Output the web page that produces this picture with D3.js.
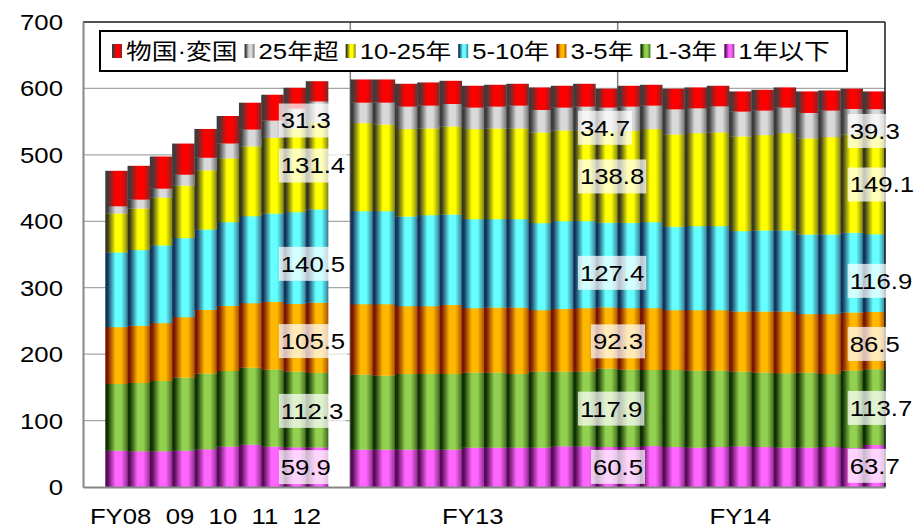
<!DOCTYPE html>
<html>
<head>
<meta charset="utf-8">
<script src="https://cdn.jsdelivr.net/npm/d3@7"></script>
<style>
  html, body { margin: 0; padding: 0; background: #fff; }
  svg { display: block; }
  text { font-family: "Liberation Sans", "Noto Sans CJK JP", Arial, sans-serif; fill: #000; }
</style>
</head>
<body>
<svg id="chart" width="918" height="528"></svg>
<script>
// ---- categories: FY08-FY12 half-year ends, FY13-FY14 month ends (two blank slots pad the first block)
const periods = [
  "pad-a",
  "2008/09", "2009/03", "2009/09", "2010/03", "2010/09",
  "2011/03", "2011/09", "2012/03", "2012/09", "2013/03",
  "pad-b",
  "2013/04", "2013/05", "2013/06", "2013/07", "2013/08", "2013/09",
  "2013/10", "2013/11", "2013/12", "2014/01", "2014/02", "2014/03",
  "2014/04", "2014/05", "2014/06", "2014/07", "2014/08", "2014/09",
  "2014/10", "2014/11", "2014/12", "2015/01", "2015/02", "2015/03"
];

// ---- axis tick labels
const tickPeriods = ["2010/09", "2013/09", "2014/09"];
const tickTexts   = ["FY08  09  10  11  12", "FY13", "FY14"];
const yTicks      = [0, 100, 200, 300, 400, 500, 600, 700];

// ---- series (bottom to top), values in trillion yen
const seriesNames = ["1年以下", "1-3年", "3-5年", "5-10年", "10-25年", "25年超", "物国·変国"];

const upTo1y = [null,
  55, 54, 54, 55, 57, 61, 64, 61, 60, 59.9, null,
  56.5, 56.5, 56.5, 56.5, 56.5, 59.5, 59.5, 59.5, 59.5, 61.5, 61.5, 60.5,
  60.5, 62, 60.5, 59.5, 60.5, 61.5, 60.5, 59.5, 59.5, 60.5, 59, 63.7];
const y1to3 = [null,
  100.5, 103, 106, 110, 114, 114, 116, 116, 114, 112.3, null,
  113, 111.5, 114, 114, 114, 113, 113, 111, 114.5, 112.5, 112.5, 117.9,
  116.5, 114.5, 116, 116, 115, 112.5, 112, 112, 113, 110, 116.5, 113.7];
const y3to5 = [null,
  85.5, 86, 87, 91, 96, 98, 97, 102, 102, 105.5, null,
  106, 107.5, 102, 102, 104, 97, 98, 100, 92.5, 94.5, 95.5, 92.3,
  92.5, 93, 90, 91, 91, 90.5, 92, 93, 88, 90, 87.5, 86.5];
const y5to10 = [null,
  112.5, 114, 117, 119, 121, 126, 131, 133, 138, 140.5, null,
  140, 140, 135, 137, 136, 134, 133, 133, 131, 132, 131, 127.4,
  128.5, 129.5, 125.5, 126.5, 126.5, 121, 122, 122, 120, 120, 120, 116.9];
const y10to25 = [null,
  58.5, 62.5, 72, 79, 89, 96, 105, 114, 126, 131.4, null,
  132.5, 130.5, 131.5, 130.5, 132.5, 135.5, 136.5, 136.5, 136.5, 136.5, 136, 138.8,
  138.5, 140, 139, 140, 141, 142.5, 143.5, 146.5, 144.5, 146.5, 148, 149.1];
const over25y = [null,
  11, 13.5, 13.5, 16.5, 19, 22.5, 25.5, 26, 30, 31.3, null,
  31, 33, 34, 34.5, 34, 32.5, 33, 34.5, 34, 34.5, 36.5, 34.7,
  36.5, 35.5, 38, 37.5, 39.5, 37.5, 37, 38.5, 38.5, 40, 38.5, 39.3];
const linkers = [null,
  53, 50.5, 48, 46.5, 43, 41, 40, 38.5, 31, 30, null,
  34.5, 34.5, 34, 34.5, 34.5, 32.5, 32.5, 32.5, 33.5, 32.5, 34, 27.9,
  31, 31, 30.5, 31, 30.5, 30, 31, 30, 32, 30, 30, 26.3];

const seriesValues = [upTo1y, y1to3, y3to5, y5to10, y10to25, over25y, linkers];

// bars that carry value labels
const labelPeriods = ["2013/03", "2014/03", "2015/03"];

// ---- styling
const brightCols = ["#FF66FF", "#92D050", "#FFB800", "#66FFFF", "#FFFF00", "#D9D9D9", "#FF0000"];
const darkCols   = ["#5A0A5A", "#0F3000", "#7A1500", "#14345C", "#3A3A1A", "#3C3C3C", "#3C3C3C"];
const SX = 1.17;                       // horizontal text stretch
const labelStartX = [[-25, -25, -25, -25, -25, -25],
                     [-2.5, -15.5, -2.5, -15.5, -15.5, -15.5],
                     [-13, -13, -13, -13, -13, -13]];
const labelNudgeY = [0, 1, 3.5, 8, 0, 9];

// ---- scales
const plotL = 83, plotR = 885, plotT = 22, plotB = 487;
const x = d3.scaleBand().domain(periods).range([plotL, plotR]).padding(0);
const y = d3.scaleLinear().domain([0, 700]).range([plotB, plotT]);

// ---- table + stack
const rows = periods.map((p, i) => {
  const r = { period: p, blank: upTo1y[i] === null };
  seriesValues.forEach((arr, k) => { r["s" + k] = arr[i] === null ? 0 : arr[i]; });
  return r;
});
const keys = seriesNames.map((_, k) => "s" + k);
const stacked = d3.stack().keys(keys)(rows);

const svg = d3.select("#chart");

// gradients: dark edges, bright body
const defs = svg.append("defs");
brightCols.forEach((c, k) => {
  const mid = d3.interpolateRgb(darkCols[k], c)(0.35);
  const g = defs.append("linearGradient").attr("id", "grad" + k)
    .attr("x1", "0").attr("x2", "1").attr("y1", "0").attr("y2", "0");
  g.append("stop").attr("offset", "0").attr("stop-color", darkCols[k]);
  g.append("stop").attr("offset", "0.1").attr("stop-color", darkCols[k]);
  g.append("stop").attr("offset", "0.45").attr("stop-color", c);
  g.append("stop").attr("offset", "0.7").attr("stop-color", c);
  g.append("stop").attr("offset", "1").attr("stop-color", mid);
});

// gridlines
svg.append("g")
  .selectAll("line")
  .data(yTicks.filter(v => v > 0 && v < 700))
  .join("line")
  .attr("x1", plotL).attr("x2", plotR)
  .attr("y1", d => y(d)).attr("y2", d => y(d))
  .attr("stroke", "#A6A6A6").attr("stroke-width", 1.2);

// block separators
svg.append("g")
  .selectAll("line")
  .data(["2013/04", "2014/04"])
  .join("line")
  .attr("x1", d => x(d)).attr("x2", d => x(d))
  .attr("y1", plotT).attr("y2", plotB)
  .attr("stroke", "#808080").attr("stroke-width", 1.5);

// bars
svg.append("g")
  .selectAll("g")
  .data(stacked)
  .join("g")
  .attr("fill", (d, k) => `url(#grad${k})`)
  .selectAll("rect")
  .data(d => d.filter(s => !s.data.blank))
  .join("rect")
  .attr("x", d => x(d.data.period))
  .attr("width", x.bandwidth() + 0.3)
  .attr("y", d => y(d[1]))
  .attr("height", d => y(d[0]) - y(d[1]) + 0.3);

// plot frame: top/right dark, axes grey
svg.append("line").attr("x1", plotL).attr("x2", plotR).attr("y1", plotT).attr("y2", plotT)
  .attr("stroke", "#1a1a1a").attr("stroke-width", 1.5);
svg.append("line").attr("x1", plotR).attr("x2", plotR).attr("y1", plotT).attr("y2", plotB)
  .attr("stroke", "#1a1a1a").attr("stroke-width", 1.5);

// y axis
const yAxis = svg.append("g").attr("transform", `translate(${plotL},0)`)
  .call(d3.axisLeft(y).tickValues(yTicks).tickSize(0).tickPadding(0));
yAxis.select(".domain").attr("stroke", "#868686").attr("stroke-width", 2);
yAxis.selectAll(".tick text")
  .attr("x", 0).attr("dy", "0.34em")
  .attr("transform", `translate(-20,0) scale(${SX},1)`)
  .attr("font-size", null).attr("font-family", null)
  .style("font-size", "22px");

// x axis
const xAxis = svg.append("g").attr("transform", `translate(0,${plotB})`)
  .call(d3.axisBottom(x).tickValues(tickPeriods)
    .tickFormat(p => tickTexts[tickPeriods.indexOf(p)]).tickSize(0).tickPadding(0));
xAxis.select(".domain").attr("stroke", "#868686").attr("stroke-width", 2);
xAxis.selectAll(".tick text")
  .attr("y", 0).attr("dy", null)
  .attr("transform", `translate(0,37) scale(${SX},1)`)
  .attr("font-size", null).attr("font-family", null)
  .style("font-size", "22px").style("white-space", "pre");

// value labels with translucent boxes
const labelLayer = svg.append("g");
labelPeriods.forEach((p, gi) => {
  const i = periods.indexOf(p);
  stacked.slice(0, 6).forEach((layer, k) => {
    const seg = layer[i];
    const val = seriesValues[k][i];
    const g = labelLayer.append("g")
      .attr("transform", `translate(${x(p) + labelStartX[gi][k]},${y((seg[0] + seg[1]) / 2) + labelNudgeY[k]})`);
    const rect = g.append("rect");
    const t = g.append("text")
      .attr("x", 0).attr("dy", "0.36em")
      .attr("transform", `scale(${SX},1)`)
      .style("font-size", "22px")
      .text(val.toFixed(1));
    const w = t.node().getComputedTextLength() * SX;
    rect.attr("x", -2).attr("y", -17).attr("width", w + 4).attr("height", 34)
      .attr("fill", "#fff").attr("fill-opacity", 0.72);
  });
});

// legend (top series first)
const legend = svg.append("g");
legend.append("rect")
  .attr("x", 100).attr("y", 31).attr("width", 747).attr("height", 40)
  .attr("fill", "#fff").attr("stroke", "#000").attr("stroke-width", 2);
let lx = 112;
d3.range(seriesNames.length - 1, -1, -1).forEach(k => {
  legend.append("rect")
    .attr("x", lx).attr("y", 44).attr("width", 10).attr("height", 14)
    .attr("fill", `url(#grad${k})`);
  const t = legend.append("text")
    .attr("transform", `translate(${lx + 14},59) scale(${SX},1)`)
    .style("font-size", "22px")
    .text(seriesNames[k]);
  lx += 14 + t.node().getComputedTextLength() * SX + 7;
});
</script>
</body>
</html>
